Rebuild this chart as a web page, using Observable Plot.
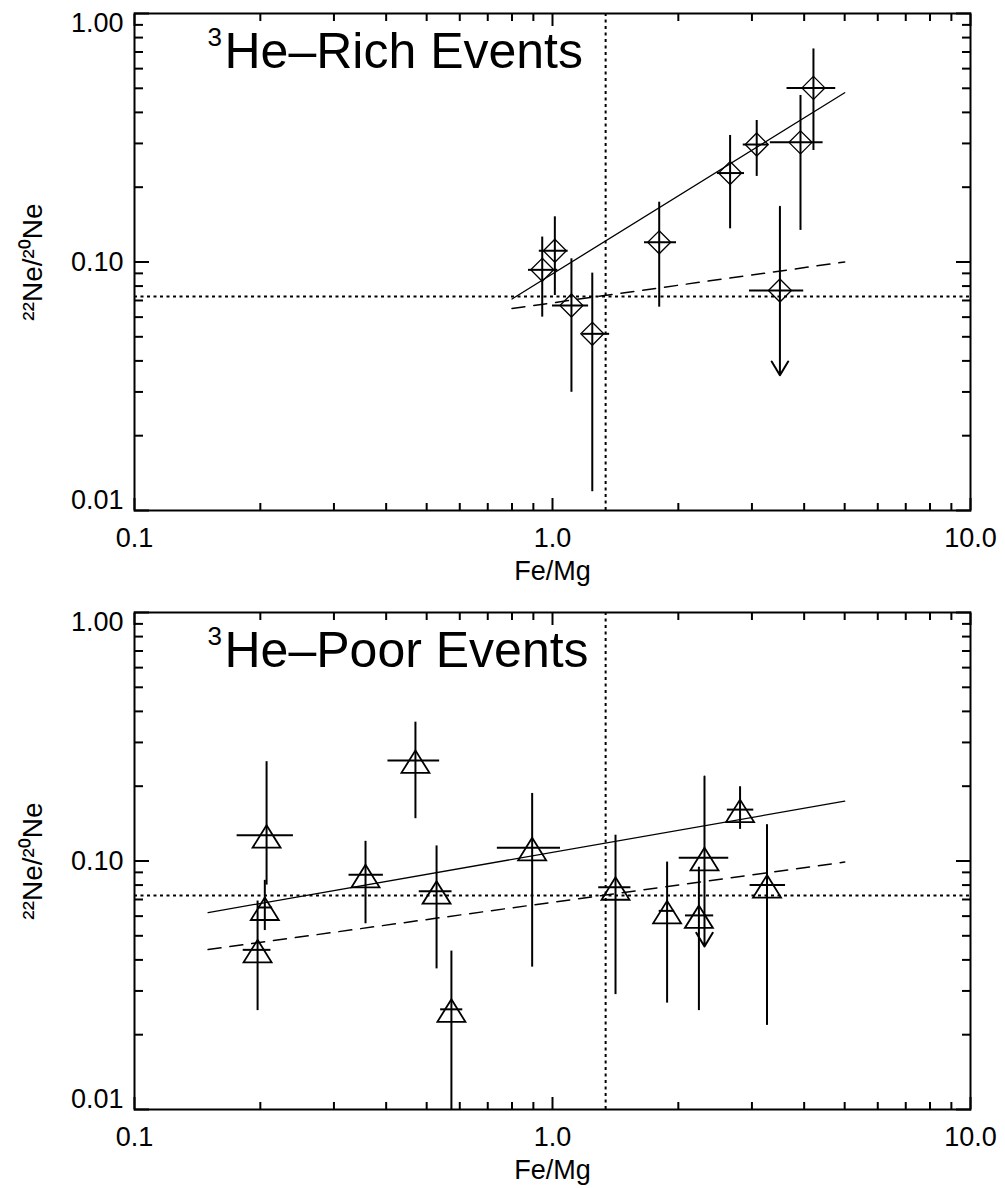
<!DOCTYPE html>
<html><head><meta charset="utf-8">
<script src="https://cdn.jsdelivr.net/npm/d3@7"></script>
<script src="https://cdn.jsdelivr.net/npm/@observablehq/plot@0.6"></script>
<style>html,body{margin:0;padding:0;background:#fff;} svg{display:block;}</style>
</head><body><div id="chart"></div>
<script>
// ---- axis ticks ----
const xMajor = [0.1, 1, 10];
const xMajorLabels = ["0.1", "1.0", "10.0"];
const xMinor = [0.2, 0.3, 0.4, 0.5, 0.6, 0.7, 0.8, 0.9, 2, 3, 4, 5, 6, 7, 8, 9];
const yMajor = [1, 0.1, 0.01];
const yMajorLabels = ["1.00", "0.10", "0.01"];
const yMinor = [0.02, 0.03, 0.04, 0.05, 0.06, 0.07, 0.08, 0.09, 0.2, 0.3, 0.4, 0.5, 0.6, 0.7, 0.8, 0.9];
const xLabel = "Fe/Mg";
const yLabel = "²²Ne/²⁰Ne";

// reference lines
const refFeMg = 1.34;
const refNe = 0.0726;

// ---- 3He-rich events ----
const richTitle = "He–Rich Events";
const richX   = [0.945, 1.013, 1.11, 1.245, 1.80, 2.66, 3.08, 3.92, 4.21];
const richY   = [0.093, 0.111, 0.0668, 0.0514, 0.120, 0.228, 0.297, 0.303, 0.502];
const richYLo = [0.060, 0.0733, 0.0299, 0.0119, 0.0658, 0.136, 0.221, 0.134, 0.281];
const richYHi = [0.126, 0.152, 0.103, 0.0902, 0.174, 0.323, 0.371, 0.468, 0.72];
const richXLo = [0.876, 0.93, 1.0, 1.18, 1.66, 2.48, 2.86, 3.32, 3.64];
const richXHi = [1.03, 1.09, 1.22, 1.37, 1.98, 2.88, 3.29, 4.44, 4.76];
// upper limits
const richLimX = [3.50], richLimY = [0.0768], richLimHi = [0.167], richLimTo = [0.035];
const richLimXLo = [2.96], richLimXHi = [3.99];
// fits
const richFitX = [0.8, 5.0];
const richFitY = [0.071, 0.48];
const richBaseY = [0.065, 0.100];

// ---- 3He-poor events ----
const poorTitle = "He–Poor Events";
const poorX   = [0.47, 0.207, 0.205, 0.197, 0.357, 0.528, 0.573, 0.894, 1.415, 1.88, 2.24, 2.81, 3.26];
const poorY   = [0.254, 0.127, 0.065, 0.0439, 0.088, 0.0756, 0.0253, 0.113, 0.0784, 0.063, 0.0604, 0.161, 0.080];
const poorYLo = [0.148, 0.080, 0.0525, 0.025, 0.0559, 0.0368, 0.0100, 0.0374, 0.029, 0.0268, 0.025, 0.134, 0.0218];
const poorYHi = [0.362, 0.251, 0.0836, 0.069, 0.120, 0.115, 0.0434, 0.187, 0.127, 0.099, 0.0944, 0.199, 0.140];
const poorXLo = [0.404, 0.176, 0.198, 0.182, 0.326, 0.48, 0.54, 0.738, 1.29, 1.80, 2.08, 2.62, 2.97];
const poorXHi = [0.537, 0.24, 0.214, 0.212, 0.394, 0.575, 0.61, 1.045, 1.54, 1.96, 2.43, 3.03, 3.61];
const poorLimX = [2.31], poorLimY = [0.103], poorLimHi = [0.219], poorLimTo = [0.0453];
const poorLimXLo = [2.01], poorLimXHi = [2.64];
const poorFitX = [0.15, 5.0];
const poorFitY = [0.062, 0.174];
const poorBaseY = [0.044, 0.099];

// ---- symbols (IDL-like open markers) ----
const diamondSymbol = {draw(ctx) { const h = 11.5; ctx.moveTo(0, -h); ctx.lineTo(h, 0); ctx.lineTo(0, h); ctx.lineTo(-h, 0); ctx.closePath(); }};
const triangleSymbol = {draw(ctx) { ctx.moveTo(0, -10); ctx.lineTo(14, 12.5); ctx.lineTo(-14, 12.5); ctx.closePath(); }};

const FONT = "'Liberation Sans', Arial, Helvetica, sans-serif";

function panel(cfg) {
  const rows = cfg.x.map((x, i) => ({x, y: cfg.y[i], yLo: cfg.yLo[i], yHi: cfg.yHi[i], xLo: cfg.xLo[i], xHi: cfg.xHi[i]}));
  const lims = cfg.limX.map((x, i) => ({x, y: cfg.limY[i], yHi: cfg.limHi[i], yTo: cfg.limTo[i], xLo: cfg.limXLo[i], xHi: cfg.limXHi[i]}));
  const fit = cfg.fitX.map((x, i) => ({x, y: cfg.fitY[i]}));
  const base = cfg.fitX.map((x, i) => ({x, y: cfg.baseY[i]}));
  const axOpts = {label: null, tickFormat: () => "", stroke: "black", strokeWidth: 2};
  return Plot.plot({
    width: 1005,
    height: cfg.height,
    marginLeft: 134, marginRight: 35, marginTop: 13, marginBottom: cfg.marginBottom,
    x: {type: "log", domain: [0.1, 10]},
    y: {type: "log", domain: [0.01, 1]},
    style: {fontFamily: FONT, background: "white", color: "black"},
    marks: [
      Plot.ruleX([refFeMg], {x: d => d, stroke: "black", strokeWidth: 2, strokeDasharray: "3,3.5"}),
      Plot.ruleY([refNe], {y: d => d, stroke: "black", strokeWidth: 2, strokeDasharray: "3,3.5"}),
      Plot.line(fit, {x: "x", y: "y", stroke: "black", strokeWidth: 1.3}),
      Plot.line(base, {x: "x", y: "y", stroke: "black", strokeWidth: 1.5, strokeDasharray: "13,9"}),
      Plot.ruleX(rows, {x: "x", y1: "yLo", y2: "yHi", stroke: "black", strokeWidth: 2}),
      Plot.ruleY(rows, {y: "y", x1: "xLo", x2: "xHi", stroke: "black", strokeWidth: 2}),
      Plot.dot(rows, {x: "x", y: "y", symbol: cfg.symbol, r: 10, stroke: "black", fill: "none", strokeWidth: cfg.symbolStroke}),
      Plot.ruleY(lims, {y: "y", x1: "xLo", x2: "xHi", stroke: "black", strokeWidth: 2}),
      Plot.arrow(lims, {x1: "x", y1: "yHi", x2: "x", y2: "yTo", stroke: "black", strokeWidth: 2, headLength: 12, headAngle: 62}),
      Plot.dot(lims, {x: "x", y: "y", symbol: cfg.symbol, r: 10, stroke: "black", fill: "none", strokeWidth: cfg.symbolStroke}),
      Plot.frame({stroke: "black", strokeWidth: 2}),
      Plot.axisX(xMajor, {...axOpts, anchor: "bottom", tickSize: -12}),
      Plot.axisX(xMinor, {...axOpts, anchor: "bottom", tickSize: -7}),
      Plot.axisX(xMajor, {...axOpts, anchor: "top", tickSize: -12}),
      Plot.axisX(xMinor, {...axOpts, anchor: "top", tickSize: -7}),
      Plot.axisY(yMajor, {...axOpts, anchor: "left", tickSize: -15}),
      Plot.axisY(yMinor, {...axOpts, anchor: "left", tickSize: -9}),
      Plot.axisY(yMajor, {...axOpts, anchor: "right", tickSize: -15}),
      Plot.axisY(yMinor, {...axOpts, anchor: "right", tickSize: -9}),
      // tick labels
      Plot.text(xMajor, {x: d => d, text: (d, i) => xMajorLabels[i], frameAnchor: "bottom", dy: 28, lineAnchor: "middle", textAnchor: "middle", fontSize: 27, fill: "black"}),
      ...yMajor.map((v, i) => Plot.text([v], {y: d => d, text: () => yMajorLabels[i], frameAnchor: "left", dx: -11, dy: i === 0 ? 10 : i === yMajor.length - 1 ? -10 : 0, lineAnchor: "middle", textAnchor: "end", fontSize: 27, fill: "black"})),
      // axis labels
      Plot.text([xLabel], {text: d => d, frameAnchor: "bottom", dy: 69, lineAnchor: "bottom", textAnchor: "middle", fontSize: 27, fill: "black"}),
      Plot.text([yLabel], {text: d => d, frameAnchor: "left", dx: -101, rotate: -90, lineAnchor: "middle", textAnchor: "middle", fontSize: 28, fill: "black"}),
      // title
      Plot.text(["3"], {text: d => d, frameAnchor: "top-left", dx: 73, dy: 32, lineAnchor: "bottom", textAnchor: "start", fontSize: 26, fill: "black"}),
      Plot.text([cfg.title], {text: d => d, frameAnchor: "top-left", dx: 90, dy: 54, lineAnchor: "bottom", textAnchor: "start", fontSize: 50, fill: "black"})
    ]
  });
}

const topPanel = panel({
  title: richTitle, x: richX, y: richY, yLo: richYLo, yHi: richYHi, xLo: richXLo, xHi: richXHi,
  limX: richLimX, limY: richLimY, limHi: richLimHi, limTo: richLimTo, limXLo: richLimXLo, limXHi: richLimXHi,
  fitX: richFitX, fitY: richFitY, baseY: richBaseY, symbol: diamondSymbol, symbolStroke: 1.3,
  height: 599, marginBottom: 89
});
const bottomPanel = panel({
  title: poorTitle, x: poorX, y: poorY, yLo: poorYLo, yHi: poorYHi, xLo: poorXLo, xHi: poorXHi,
  limX: poorLimX, limY: poorLimY, limHi: poorLimHi, limTo: poorLimTo, limXLo: poorLimXLo, limXHi: poorLimXHi,
  fitX: poorFitX, fitY: poorFitY, baseY: poorBaseY, symbol: triangleSymbol, symbolStroke: 1.8,
  height: 589, marginBottom: 79
});
document.getElementById("chart").append(topPanel, bottomPanel);
</script>
</body></html>
